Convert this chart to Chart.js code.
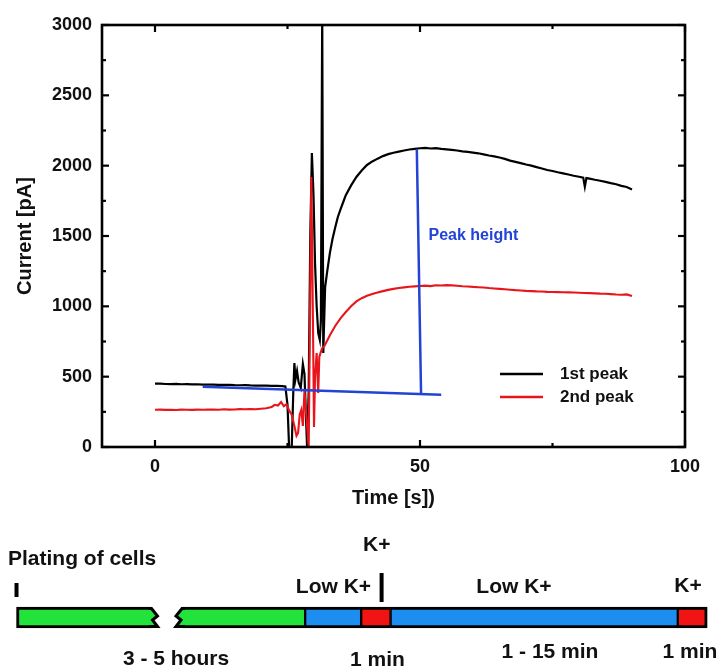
<!DOCTYPE html>
<html><head><meta charset="utf-8">
<script src="https://cdn.jsdelivr.net/npm/chart.js@4.4.1/dist/chart.umd.min.js"></script>
<style>
html,body{margin:0;padding:0;background:#fff;}
#wrap{position:relative;width:718px;height:667px;overflow:hidden;background:#fff;}
canvas{position:absolute;left:0;top:0;}
</style></head><body>
<div id="wrap"><canvas id="c1" width="718" height="667"></canvas><canvas id="c2" width="718" height="667"></canvas></div>
<script>
// ---------- DATA ----------
const xTicks = [0, 50, 100];
const xMinorTicks = [25, 75];
const yTicks = [0, 500, 1000, 1500, 2000, 2500, 3000];
const yMinorTicks = [250, 750, 1250, 1750, 2250, 2750];

const time1 = [0,1,2,3,4,5,6,7,8,9,10,11,12,13,14,15,16,17,18,19,20,21,22,23,24,24.6,25.0,25.3,25.8,26.1,26.3,26.5,26.8,27.1,27.5,27.9,28.2,28.5,28.7,29.0,29.3,29.6,29.9,30.2,30.5,30.8,31.1,31.3,31.55,31.75,32.1,32.5,33,33.5,34,34.5,35,35.5,36,37,38,39,40,41,42,43,44,45,46,47,48,49,50,51,52,53,54,55,56,57,58,59,60,61,62,63,64,65,66,67,68,69,70,71,72,73,74,75,76,77,78,79,80,80.8,81.1,81.4,82,83,84,85,86,87,88,89,90];
const current1 = [450,450,448,447,449,446,447,445,446,444,443,444,442,441,442,440,439,440,438,437,436,437,435,434,433,430,300,0,0,400,597,480,540,460,420,590,520,200,0,400,1500,2090,1800,1300,1000,810,760,900,3100,668,1137,1250,1380,1480,1560,1635,1690,1740,1790,1860,1920,1965,2005,2030,2050,2068,2082,2092,2100,2108,2115,2120,2124,2126,2122,2125,2119,2116,2112,2108,2102,2098,2093,2088,2080,2072,2066,2058,2048,2036,2027,2018,2008,2000,1990,1980,1969,1962,1953,1945,1937,1928,1921,1915,1850,1912,1908,1900,1893,1885,1876,1868,1856,1848,1831];

const time2 = [0,1,2,3,4,5,6,7,8,9,10,11,12,13,14,15,16,17,18,19,20,21,22,22.6,23.2,23.8,24.3,24.8,25.3,25.8,26.3,26.7,27.0,27.3,27.6,27.9,28.2,28.6,29.0,29.5,29.8,30.0,30.2,30.5,30.8,31.0,31.5,32,33,34,35,36,37,38,39,40,41,42,43,44,45,46,47,48,49,50,51,52,53,54,55,56,57,58,59,60,61,62,63,64,65,66,67,68,69,70,71,72,73,74,75,76,77,78,79,80,81,82,83,84,85,86,87,88,89,90];
const current2 = [265,266,264,265,263,266,265,264,266,265,267,266,265,268,266,267,269,268,270,268,272,275,285,300,295,320,290,305,260,230,150,80,100,230,263,150,400,200,0,1920,900,142,500,668,384,640,700,720,795,860,915,960,1000,1035,1058,1075,1088,1098,1108,1117,1124,1130,1135,1139,1142,1145,1147,1144,1150,1148,1151,1149,1146,1143,1141,1138,1136,1134,1130,1127,1124,1121,1118,1115,1113,1110,1108,1106,1105,1103,1102,1101,1100,1099,1098,1097,1095,1094,1092,1090,1089,1087,1084,1082,1085,1073];

const baselineX = [9, 54];
const baselineY = [428, 372];
const peakLineX = [49.4, 50.2];
const peakLineY = [2115, 380];

const seriesNames = ['1st peak', '2nd peak'];

// timeline (schematic units 0-100 across the page width)
const segStart = [2.3, 25.35, 42.5, 50.3, 54.4, 94.4];
const segEnd   = [21.1, 42.5, 50.3, 54.4, 94.4, 98.5];
const segKind  = ['plating', 'plating', 'low', 'high', 'low', 'high'];

// ---------- DRAWING ----------
const FONT = '"Liberation Sans", Arial, Helvetica, sans-serif';
const zip = (xs, ys) => xs.map((x, i) => ({x, y: ys[i]}));
const BLACK = '#000000', RED = '#e8161c', BLUE = '#2342d6';

const framePlugin = {
  id: 'frame',
  afterDraw(chart) {
    const {ctx, chartArea: a, scales: {x, y}} = chart;
    ctx.save();
    ctx.strokeStyle = '#000';
    ctx.lineCap = 'butt';
    const ln = (x1, y1, x2, y2) => { ctx.beginPath(); ctx.moveTo(x1, y1); ctx.lineTo(x2, y2); ctx.stroke(); };
    ctx.lineWidth = 2.2;
    xTicks.forEach(v => { const p = x.getPixelForValue(v); ln(p, a.bottom, p, a.bottom - 7); ln(p, a.top, p, a.top + 7); });
    xMinorTicks.forEach(v => { const p = x.getPixelForValue(v); ln(p, a.bottom, p, a.bottom - 4); ln(p, a.top, p, a.top + 4); });
    yTicks.forEach(v => { const p = y.getPixelForValue(v); ln(a.left, p, a.left + 7, p); ln(a.right, p, a.right - 7, p); });
    yMinorTicks.forEach(v => { const p = y.getPixelForValue(v); ln(a.left, p, a.left + 4, p); ln(a.right, p, a.right - 4, p); });
    ctx.lineWidth = 2.6;
    ctx.strokeRect(a.left, a.top, a.right - a.left, a.bottom - a.top);

    // legend
    const ds = chart.data.datasets;
    ctx.font = 'bold 17px ' + FONT;
    ctx.textBaseline = 'middle';
    ctx.textAlign = 'left';
    [0, 1].forEach(i => {
      const yy = a.bottom - 73 + i * 23;
      ctx.strokeStyle = ds[i].borderColor;
      ctx.lineWidth = 2.5;
      ln(a.right - 185, yy, a.right - 142, yy);
      ctx.fillStyle = '#111';
      ctx.fillText(seriesNames[i], a.right - 125, yy);
    });

    // peak height label
    ctx.fillStyle = BLUE;
    ctx.font = 'bold 16px ' + FONT;
    ctx.fillText('Peak height', x.getPixelForValue(51.6), y.getPixelForValue(1500));
    ctx.restore();
  }
};

new Chart(document.getElementById('c1'), {
  type: 'line',
  data: {
    datasets: [
      {label: seriesNames[0], data: zip(time1, current1), borderColor: BLACK, borderWidth: 2.2, pointRadius: 0, order: 3},
      {label: seriesNames[1], data: zip(time2, current2), borderColor: RED, borderWidth: 2.1, pointRadius: 0, order: 2},
      {label: 'baseline', data: zip(baselineX, baselineY), borderColor: BLUE, borderWidth: 2.5, pointRadius: 0, order: 1},
      {label: 'Peak height', data: zip(peakLineX, peakLineY), borderColor: BLUE, borderWidth: 2.5, pointRadius: 0, order: 1}
    ]
  },
  options: {
    responsive: false, animation: false, devicePixelRatio: 1,
    layout: {padding: {left: 0, top: 25, right: 33, bottom: 150}},
    plugins: {legend: {display: false}, tooltip: {enabled: false}},
    scales: {
      x: {
        type: 'linear', min: -10, max: 100,
        afterBuildTicks: s => { s.ticks = xTicks.map(v => ({value: v})); },
        afterFit: s => { s.height = 70; },
        grid: {display: false, drawTicks: false}, border: {display: false},
        ticks: {color: '#111', padding: 9, font: {family: FONT, size: 18, weight: 'bold'}, callback: v => String(v)},
        title: {display: true, text: 'Time [s])', color: '#111', font: {family: FONT, size: 20, weight: 'bold'}, padding: {top: 0, bottom: 7}}
      },
      y: {
        type: 'linear', min: 0, max: 3000,
        afterBuildTicks: s => { s.ticks = yTicks.map(v => ({value: v})); },
        afterFit: s => { s.width = 102; },
        grid: {display: false, drawTicks: false}, border: {display: false},
        ticks: {color: '#111', padding: 10, font: {family: FONT, size: 18, weight: 'bold'}, callback: v => String(v)},
        title: {display: true, text: 'Current [pA]', color: '#111', font: {family: FONT, size: 20, weight: 'bold'}, padding: {top: 13, bottom: 0}}
      }
    }
  },
  plugins: [framePlugin]
});

// ---------- TIMELINE ----------
const kindColor = {plating: '#22e23c', low: '#1c8ef0', high: '#f01414'};
const timelinePlugin = {
  id: 'timeline',
  afterDatasetsDraw(chart) {
    const {ctx} = chart;
    const e0 = chart.getDatasetMeta(0).data[0].getProps(['x', 'base', 'y', 'height'], true);
    const e1 = chart.getDatasetMeta(1).data[0].getProps(['x', 'base', 'y', 'height'], true);
    const T = e0.y - e0.height / 2, B = e0.y + e0.height / 2;
    const zig = (xz, dir) => [[xz, T + 1.5], [xz + dir * 6, T + 9], [xz + dir * 1, T + 13], [xz + dir * 6, B - 1.5]];
    const drawBreak = (xz, dir) => {
      const pts = zig(xz, dir);
      ctx.save();
      ctx.fillStyle = kindColor.plating;
      ctx.beginPath();
      ctx.moveTo(xz - dir * 2, T + 2);
      pts.forEach(p => ctx.lineTo(p[0], p[1]));
      ctx.lineTo(xz - dir * 2, B - 2);
      ctx.closePath(); ctx.fill();
      ctx.strokeStyle = '#000'; ctx.lineWidth = 3; ctx.lineJoin = 'miter';
      ctx.beginPath();
      ctx.moveTo(xz - dir * 3, T + 1.5);
      pts.forEach(p => ctx.lineTo(p[0], p[1]));
      ctx.lineTo(xz - dir * 3, B - 1.5);
      ctx.stroke();
      ctx.restore();
    };
    drawBreak(Math.max(e0.x, e0.base), 1);
    drawBreak(Math.min(e1.x, e1.base), -1);
  },
  afterDraw(chart) {
    const {ctx} = chart;
    const xs = chart.scales.x;
    ctx.save();
    ctx.fillStyle = '#000';
    // markers
    ctx.fillRect(xs.getPixelForValue(segStart[0]) - 2, 583, 4, 14);
    ctx.fillRect(xs.getPixelForValue(segEnd[3]) - 11, 573, 4, 29);
    ctx.fillStyle = '#111';
    ctx.font = 'bold 21px ' + FONT;
    ctx.textBaseline = 'middle';
    ctx.textAlign = 'left';
    ctx.fillText('Plating of cells', 8, 559);
    ctx.textAlign = 'center';
    const lbl = [
      ['3 - 5 hours', 176, 659],
      ['Low K+', 333.5, 587],
      ['K+', 376.7, 545],
      ['Low K+', 514, 587],
      ['K+', 688, 586],
      ['1 min', 377.5, 660],
      ['1 - 15 min', 550, 652],
      ['1 min', 690, 652]
    ];
    lbl.forEach(l => ctx.fillText(l[0], l[1], l[2]));
    ctx.restore();
  }
};

const tlDatasets = segStart.map((s, i) => ({
  data: [[s, segEnd[i]]],
  backgroundColor: kindColor[segKind[i]],
  borderColor: '#000',
  borderWidth: {top: 3, bottom: 3, left: i === 1 ? 0 : (i === 0 ? 3 : 1.5), right: i === 0 ? 0 : (i === segStart.length - 1 ? 3 : 1.5)},
  borderSkipped: false,
  grouped: false,
  barThickness: 21
}));

new Chart(document.getElementById('c2'), {
  type: 'bar',
  data: {labels: ['timeline'], datasets: tlDatasets},
  options: {
    indexAxis: 'y', responsive: false, animation: false, devicePixelRatio: 1,
    layout: {padding: {left: 0, right: 0, top: 597, bottom: 29}},
    plugins: {legend: {display: false}, tooltip: {enabled: false}},
    scales: {
      x: {type: 'linear', min: 0, max: 100, display: false},
      y: {display: false}
    }
  },
  plugins: [timelinePlugin]
});
</script>
</body></html>
